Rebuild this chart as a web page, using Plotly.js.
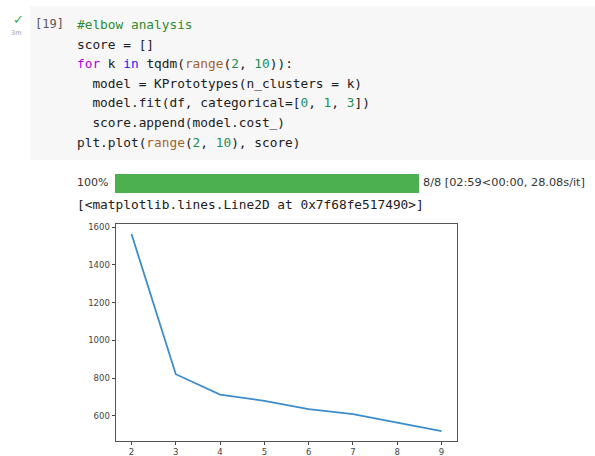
<!DOCTYPE html>
<html>
<head>
<meta charset="utf-8">
<script src="https://cdn.plot.ly/plotly-3.0.1.min.js"></script>
<style>
  html, body { margin:0; padding:0; background:#ffffff; width:595px; height:456px; overflow:hidden; position:relative; }
  .cell { position:absolute; left:30px; top:6px; width:565px; height:154px; background:#f7f7f7; }
  .check { position:absolute; left:13px; top:13px; color:#3fa548; font-family:"DejaVu Sans",sans-serif; font-size:13px; line-height:14px; }
  .time { position:absolute; left:11px; top:29px; color:#9e9e9e; font-family:"DejaVu Sans",sans-serif; font-size:6.5px; }
  .exec { position:absolute; left:35px; top:15px; color:#555; font-family:"DejaVu Sans Mono",monospace; font-size:12px; line-height:19.6px; }
  .ln { position:absolute; left:77px; height:19.6px; margin:0; font-family:"DejaVu Sans Mono",monospace; font-size:12.8px; line-height:19.6px; color:#202020; white-space:pre; }
  .cm { color:#2e8b2e; } .kw { color:#af00db; } .kb { color:#1a1aff; } .fn { color:#a0652d; } .nu { color:#1b8f5a; }
  .pct { position:absolute; left:77px; top:176px; font-family:"DejaVu Sans",sans-serif; font-size:11px; color:#333; }
  .bar { position:absolute; left:115px; top:174px; width:304px; height:19px; background:#4caf50; }
  .stat { position:absolute; left:423px; top:176px; font-family:"DejaVu Sans",sans-serif; font-size:11.3px; color:#333; white-space:nowrap; }
  .repr { position:absolute; left:77px; top:197px; font-family:"DejaVu Sans Mono",monospace; font-size:12.8px; color:#202020; white-space:pre; }
  #chart { position:absolute; left:60px; top:215px; width:420px; height:241px; }
</style>
</head>
<body>
<div class="cell"></div>
<div class="check">✓</div>
<div class="time">3m</div>
<div class="exec">[19]</div>
<div class="ln" style="top:15px"><span class="cm">#elbow analysis</span></div>
<div class="ln" style="top:34.6px">score = []</div>
<div class="ln" style="top:54.2px"><span class="kw">for</span> k <span class="kb">in</span> tqdm(<span class="fn">range</span>(<span class="nu">2</span>, <span class="nu">10</span>)):</div>
<div class="ln" style="top:73.8px">  model = KPrototypes(n_clusters = k)</div>
<div class="ln" style="top:93.4px">  model.fit(df, categorical=[<span class="nu">0</span>, <span class="nu">1</span>, <span class="nu">3</span>])</div>
<div class="ln" style="top:113px">  score.append(model.cost_)</div>
<div class="ln" style="top:132.6px">plt.plot(<span class="fn">range</span>(<span class="nu">2</span>, <span class="nu">10</span>), score)</div>
<div class="pct">100%</div>
<div class="bar"></div>
<div class="stat">8/8 [02:59&lt;00:00, 28.08s/it]</div>
<div class="repr">[&lt;matplotlib.lines.Line2D at 0x7f68fe517490&gt;]</div>
<div id="chart"></div>
<script>
const kValues = [2, 3, 4, 5, 6, 7, 8, 9];
const scores = [1564, 821, 713, 680, 636, 609, 565, 519];
const xTicks = [2, 3, 4, 5, 6, 7, 8, 9];
const yTicks = [600, 800, 1000, 1200, 1400, 1600];

const trace = {
  x: kValues, y: scores, type: 'scatter', mode: 'lines',
  line: { color: '#3d8ccb', width: 1.8 }, hoverinfo: 'skip'
};
const axisBase = {
  showline: true, mirror: true, linecolor: '#555', linewidth: 1,
  showgrid: false, zeroline: false, ticks: 'outside', ticklen: 3.5,
  tickcolor: '#444', tickwidth: 1,
  tickfont: { family: 'DejaVu Sans, sans-serif', size: 8.5, color: '#444' }
};
const layout = {
  width: 420, height: 241,
  margin: { l: 56, r: 23, t: 9, b: 15 },
  paper_bgcolor: 'rgba(0,0,0,0)', plot_bgcolor: '#ffffff',
  showlegend: false,
  xaxis: Object.assign({}, axisBase, { range: [1.65, 9.35], tickmode: 'array', tickvals: xTicks, ticklen: 3 }),
  yaxis: Object.assign({}, axisBase, { range: [467, 1617], tickmode: 'array', tickvals: yTicks })
};
Plotly.newPlot('chart', [trace], layout, { staticPlot: true, displayModeBar: false });
</script>
</body>
</html>
